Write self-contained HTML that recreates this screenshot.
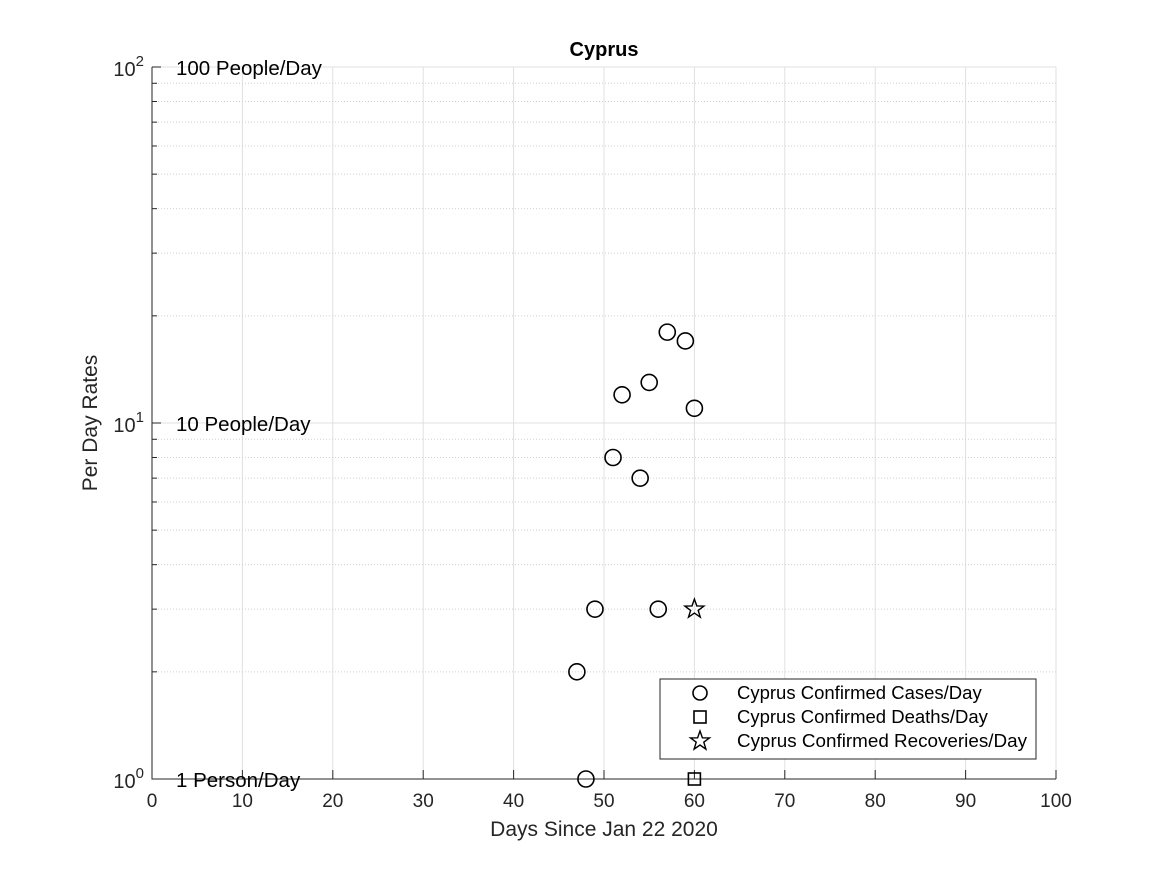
<!DOCTYPE html>
<html><head><meta charset="utf-8"><style>
body{margin:0;background:#fff}
svg text{font-family:"Liberation Sans",sans-serif}
</style></head><body>
<svg id="c" width="1167" height="875" xmlns="http://www.w3.org/2000/svg"></svg>
<script>
const xTicks=[0,10,20,30,40,50,60,70,80,90,100];
const caseDays=[47,48,49,51,52,54,55,56,57,59,60];
const caseVals=[2,1,3,8,12,7,13,3,18,17,11];
const deathDays=[60];
const deathVals=[1];
const recDays=[60];
const recVals=[3];
const refLabels=["1 Person/Day","10 People/Day","100 People/Day"];
const refVals=[1,10,100];
const NS="http://www.w3.org/2000/svg";
const svg=document.getElementById('c');
const X0=152,X1=1056,Y0=779,Y1=67;
const xs=v=>X0+(v-0)/100*(X1-X0);
const ys=v=>Y0-Math.log10(v)/2*(Y0-Y1);
function el(t,a,p){const e=document.createElementNS(NS,t);for(const k in a)e.setAttribute(k,a[k]);(p||svg).appendChild(e);return e;}
for(const t of xTicks){const g=el('line',{x1:xs(t),x2:xs(t),y1:Y1,y2:Y0,stroke:'#e0e0e0','stroke-width':1});

}
for(let d=0;d<2;d++)for(let m=1;m<=10;m++){const v=m*Math.pow(10,d);if(m==1&&d>0)continue;const y=ys(v);
const major=(m==1||m==10);
const g=el('line',{x1:X0,x2:X1,y1:y,y2:y,stroke:major?'#e0e0e0':'#d0d0d0','stroke-width':1,'stroke-dasharray':major?'':'1,2'});


const tk=el('line',{x1:X0,x2:X0+(major?9:5),y1:y,y2:y,stroke:'#262626'});

}
const ax=el('path',{d:`M${X0},${Y1}V${Y0}H${X1}`,fill:'none',stroke:'#262626','stroke-width':1});


for(const t of xTicks){const tk=el('line',{x1:xs(t),x2:xs(t),y1:Y0,y2:Y0-9,stroke:'#262626'});


const l=el('text',{x:xs(t),y:Y0+28,'text-anchor':'middle','font-size':19,fill:'#262626'});l.textContent=t;

}
[0,1,2].forEach(p=>{const y=ys(Math.pow(10,p));const l=el('text',{x:X0-8,y:y+9,'text-anchor':'end','font-size':20,fill:'#262626'});
l.innerHTML=`10<tspan dy="-10" font-size="15">${p}</tspan>`;

});
refLabels.forEach((s,i)=>{const t=el('text',{x:176,y:ys(refVals[i])+8,'font-size':20.5,fill:'#000'});t.textContent=s;

});
const ti=el('text',{x:604,y:56,'text-anchor':'middle','font-size':20,'font-weight':'bold'});ti.textContent='Cyprus';


const xl=el('text',{x:604,y:836,'text-anchor':'middle','font-size':21,fill:'#262626'});xl.textContent='Days Since Jan 22 2020';


const yl=el('text',{x:0,y:0,'text-anchor':'middle','font-size':21,fill:'#262626',transform:`translate(97,${(Y0+Y1)/2}) rotate(-90)`});yl.textContent='Per Day Rates';


function star(cx,cy,r){let p=[];for(let i=0;i<10;i++){const a=-Math.PI/2+i*Math.PI/5;const rr=i%2?r*0.4:r;p.push((cx+rr*Math.cos(a)).toFixed(1)+','+(cy+rr*Math.sin(a)).toFixed(1));}return p.join(' ');}
caseDays.forEach((d,i)=>{const c=el('circle',{cx:xs(d),cy:ys(caseVals[i]),r:8,fill:'none',stroke:'#000','stroke-width':1.6});

});
deathDays.forEach((d,i)=>{const c=el('rect',{x:xs(d)-6,y:ys(deathVals[i])-6,width:12,height:12,fill:'none',stroke:'#000','stroke-width':1.6});

});
recDays.forEach((d,i)=>{const c=el('polygon',{points:star(xs(d),ys(recVals[i]),10),fill:'none',stroke:'#000','stroke-width':1.4});

});
const lg=el('g',{});


el('rect',{x:660,y:679,width:376,height:80,fill:'#fff',stroke:'#262626','stroke-width':1},lg);
const names=['Cyprus Confirmed Cases/Day','Cyprus Confirmed Deaths/Day','Cyprus Confirmed Recoveries/Day'];
names.forEach((n,i)=>{const y=693+i*24;
if(i==0)el('circle',{cx:700,cy:y,r:7,fill:'none',stroke:'#000','stroke-width':1.6},lg);
if(i==1)el('rect',{x:694,y:y-6,width:12,height:12,fill:'none',stroke:'#000','stroke-width':1.6},lg);
if(i==2)el('polygon',{points:star(700,y,10),fill:'none',stroke:'#000','stroke-width':1.4},lg);
const t=el('text',{x:737,y:y+6,'font-size':18.5,fill:'#000',textLength:290,lengthAdjust:'spacingAndGlyphs'},lg);t.textContent=n;
if(i!=2)t.removeAttribute('textLength');

});
</script>
</body></html>
